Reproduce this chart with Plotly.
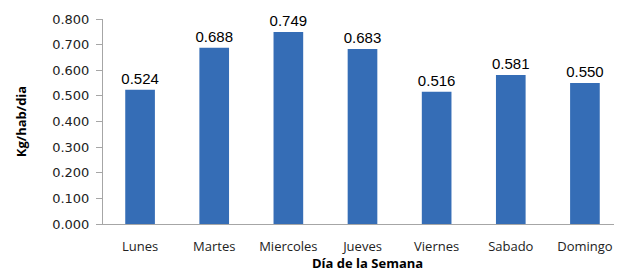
import plotly.graph_objects as go

dias = ["Lunes", "Martes", "Miercoles", "Jueves", "Viernes", "Sabado", "Domingo"]
valores = [0.524, 0.688, 0.749, 0.683, 0.516, 0.581, 0.550]
etiquetas = ["0.524", "0.688", "0.749", "0.683", "0.516", "0.581", "0.550"]
y_ticks = [0.0, 0.1, 0.2, 0.3, 0.4, 0.5, 0.6, 0.7, 0.8]

fig = go.Figure()
fig.add_trace(go.Bar(
    x=dias, y=valores, text=etiquetas, textposition="outside",
    constraintext="none",
    textfont=dict(family="Liberation Sans, Arial", size=15, color="#000000"),
    marker=dict(color="#356db6", line=dict(width=0)),
    cliponaxis=False,
))

# page body has an 8px default margin, so the figure is sized to the remaining view
fig.update_layout(
    width=614, height=268,
    margin=dict(l=95, r=0, t=11, b=52, autoexpand=False),
    paper_bgcolor="white", plot_bgcolor="white",
    bargap=0.6, showlegend=False,
    font=dict(family="Open Sans", size=12, color="#222222"),
    xaxis=dict(
        range=[-0.5, 6.5], showline=True, linecolor="#a6a6a6", linewidth=1,
        ticks="", showgrid=False, tickfont=dict(size=13, family="Open Sans", color="#222222"),
        ticklabelstandoff=10, automargin=False,
    ),
    yaxis=dict(
        range=[0, 0.8], tickvals=y_ticks, tickformat=".3f",
        showline=True, linecolor="#a6a6a6", linewidth=1,
        ticks="outside", ticklen=6, tickcolor="#a6a6a6", showgrid=False,
        zeroline=False, tickfont=dict(size=13, family="DejaVu Sans", color="#222222"),
        ticklabelstandoff=4, automargin=False,
        title=dict(text="<b>Kg/hab/dia</b>", font=dict(size=13, family="Open Sans", color="#000000"), standoff=22),
    ),
    annotations=[dict(
        text="<b>Día de la Semana</b>", xref="paper", yref="paper",
        x=0.51, y=0, yshift=-50, xanchor="center", yanchor="bottom",
        showarrow=False, font=dict(size=13, family="Open Sans", color="#000000"),
    )],
)

fig.write_html("out.html")
